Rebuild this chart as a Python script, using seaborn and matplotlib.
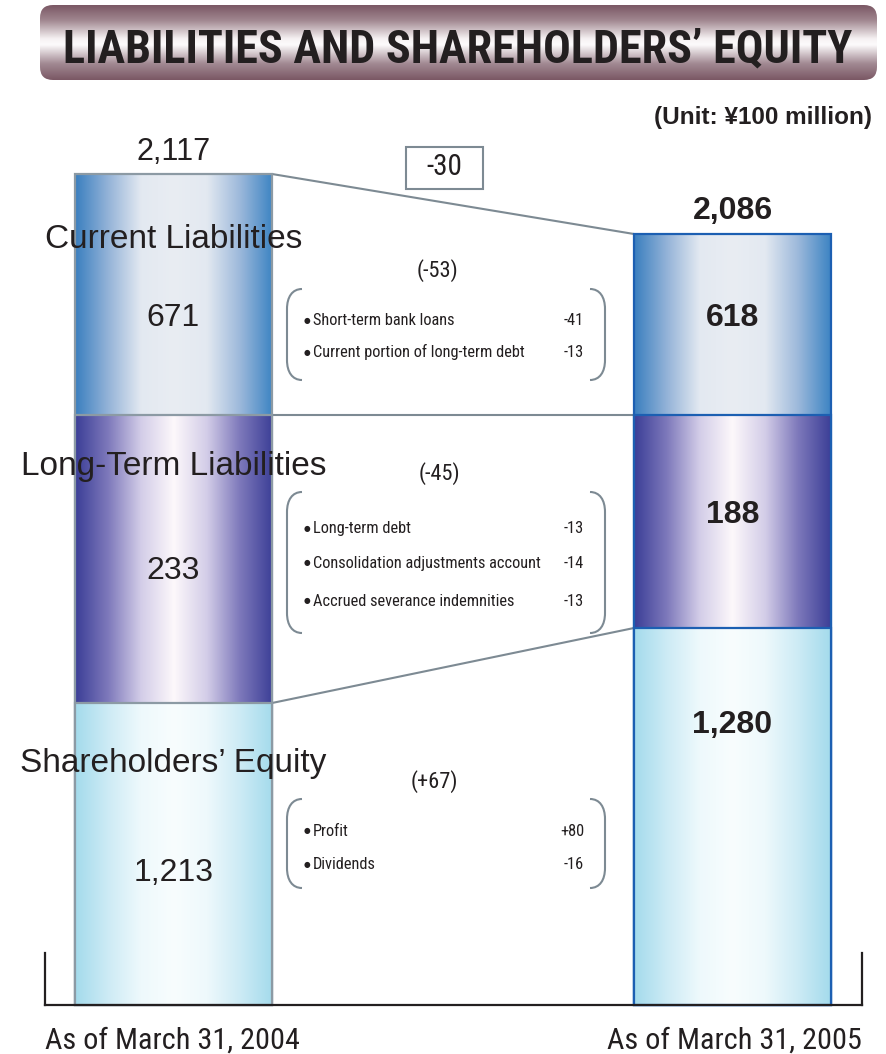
import numpy as np
import pandas as pd
import matplotlib
matplotlib.use("Agg")
import matplotlib.pyplot as plt
import seaborn as sns
from matplotlib.colors import LinearSegmentedColormap
from matplotlib.patches import FancyBboxPatch, PathPatch, Rectangle
from matplotlib.path import Path
from matplotlib import font_manager

# ---------------- data ----------------
dates = ["As of March 31, 2004", "As of March 31, 2005"]
segments = ["Shareholders’ Equity", "Long-Term Liabilities", "Current Liabilities"]  # bottom -> top
values_2004 = ["1,213", "233", "671"]
values_2005 = ["1,280", "188", "618"]
totals = ["2,117", "2,086"]
total_change = "-30"
# the original chart is schematic (not to scale): segment heights as drawn
drawn_2004 = [302, 288, 241]
drawn_2005 = [377, 213, 181]
change_headers = ["(+67)", "(-45)", "(-53)"]
eq_items = ["Profit", "Dividends"]
eq_item_values = ["+80", "-16"]
lt_items = ["Long-term debt", "Consolidation adjustments account", "Accrued severance indemnities"]
lt_item_values = ["-13", "-14", "-13"]
cl_items = ["Short-term bank loans", "Current portion of long-term debt"]
cl_item_values = ["-41", "-13"]
title = "LIABILITIES AND SHAREHOLDERS’ EQUITY"
unit = "(Unit: ¥100 million)"

# ---------------- style ----------------
sns.set_theme(style="white")
plt.rcParams["font.family"] = ["Liberation Sans", "DejaVu Sans"]


def find_condensed():
    entries = font_manager.fontManager.ttflist
    names = {f.name for f in entries}
    for pref in ["Liberation Sans Narrow", "Roboto Condensed", "Open Sans Condensed",
                 "Noto Sans Condensed", "DejaVu Sans Condensed"]:
        if pref in names:
            return pref, "normal"
    for f in entries:
        if "Narrow" in f.name or "Condensed" in f.name:
            return f.name, "normal"
    for f in entries:
        if str(f.stretch) in ("condensed", "semi-condensed", "extra-condensed"):
            return f.name, f.stretch
    return "Liberation Sans", "normal"


CFAM, CSTR = find_condensed()
COND = dict(family=[CFAM, "DejaVu Sans"], fontstretch=CSTR)

TXT = "#231f20"
GRAY = "#7d8a93"

W, H = 887, 1054
fig = plt.figure(figsize=(W / 100, H / 100), dpi=100)
ax = fig.add_axes([0, 0, 1, 1])
renderer = fig.canvas.get_renderer()


def fit(t, target_px):
    bb = t.get_window_extent(renderer)
    if bb.width > 0:
        t.set_fontsize(t.get_fontsize() * target_px / bb.width)
    return t.get_fontsize()


# pixel -> data helpers (layout only)
CX0, SP, BASE = 173.5, 559.0, 1005.0
def X(px):
    return (px - CX0) / SP
def Y(py):
    return BASE - py
bar_w = 197 / SP

cmaps = [
    LinearSegmentedColormap.from_list("eq", ["#a4dbec", "#cdebf5", "#eef9fc", "#f8fdfe", "#eef9fc", "#cdebf5", "#a4dbec"]),
    LinearSegmentedColormap.from_list("lt", ["#3b3e97", "#7e79bb", "#d3cde8", "#fdf8fb", "#d3cde8", "#7e79bb", "#3c3f97"]),
    LinearSegmentedColormap.from_list("cl", ["#3a7fbf", "#94b3d8", "#e3e9f1", "#e9edf3", "#e3e9f1", "#9db9db", "#3d84c3"]),
]
edge_colors = ["#8c9aa4", "#1c5fb2"]
grad = np.linspace(0, 1, 256)[None, :]

cum04 = np.cumsum(drawn_2004)
cum05 = np.cumsum(drawn_2005)

for k, i in enumerate([2, 1, 0]):
    df = pd.DataFrame({"date": dates, "top": [cum04[i], cum05[i]]})
    before = len(ax.patches)
    sns.barplot(data=df, x="date", y="top", order=dates, width=bar_w, color="white",
                errorbar=None, ax=ax)
    for j, p in enumerate(ax.patches[before:]):
        x0, w, h = p.get_x(), p.get_width(), p.get_height()
        im = ax.imshow(grad, cmap=cmaps[i], extent=(x0, x0 + w, 0, h), aspect="auto",
                       interpolation="bicubic", zorder=2 + 2 * k)
        im.set_clip_path(p)
        p.set_facecolor("none")
        p.set_edgecolor(edge_colors[j])
        p.set_linewidth(1.6)
        p.set_zorder(3 + 2 * k)

ax.set_xlim(X(0), X(W))
ax.set_ylim(Y(H), Y(0))
ax.set_xticks([])
ax.set_yticks([])
ax.set_xlabel("")
ax.set_ylabel("")

# spines as baseline with end ticks
ax.spines["top"].set_visible(False)
ax.spines["bottom"].set_position(("data", 0))
ax.spines["bottom"].set_bounds(X(45), X(862))
ax.spines["left"].set_position(("data", X(45)))
ax.spines["left"].set_bounds(0, Y(953))
ax.spines["right"].set_position(("data", X(862)))
ax.spines["right"].set_bounds(0, Y(953))
for s in ["bottom", "left", "right"]:
    ax.spines[s].set_color(TXT)
    ax.spines[s].set_linewidth(1.6)
    ax.spines[s].set_zorder(20)

# connectors
xr, xl = 0 + bar_w / 2, 1 - bar_w / 2
for i in [2, 1, 0]:
    ax.plot([xr, xl], [cum04[i], cum05[i]], color=GRAY, lw=1.5, zorder=1)

# totals
ax.text(0, Y(160), totals[0], ha="center", va="baseline", fontsize=22, color=TXT)
ax.text(1, Y(219), totals[1], ha="center", va="baseline", fontsize=23, fontweight="bold", color=TXT)

# change box
t = ax.text(X(444), Y(175), total_change, ha="center", va="baseline", fontsize=19,
            color=TXT, zorder=10, **COND)
fit(t, 36)
ax.add_patch(Rectangle((X(406), Y(189)), X(483) - X(406), Y(147) - Y(189), fill=False,
                       edgecolor=GRAY, lw=1.5, zorder=10))

# segment labels
seg_base = [772, 475, 248]
for lab, b in zip(segments, seg_base):
    ax.text(0, Y(b), lab, ha="center", va="baseline", fontsize=24, color=TXT, zorder=15)

left_val_base = [881, 579, 326]
right_val_base = [733, 523, 326]
for v, b in zip(values_2004, left_val_base):
    ax.text(0, Y(b), v, ha="center", va="baseline", fontsize=23, color=TXT, zorder=15)
for v, b in zip(values_2005, right_val_base):
    ax.text(1, Y(b), v, ha="center", va="baseline", fontsize=23, fontweight="bold", color=TXT, zorder=15)


# bracket boxes
def bracket(top, bot, xl_px=287, xr_px=605, stub=15, r=20):
    for side in (-1, 1):
        if side == -1:
            xe, xs = xl_px, xl_px + stub
        else:
            xe, xs = xr_px, xr_px - stub
        verts = [
            (X(xs), Y(top)), (X(xe + (xs - xe) * 0.35), Y(top)), (X(xe), Y(top + r * 0.4)), (X(xe), Y(top + r)),
            (X(xe), Y(bot - r)),
            (X(xe), Y(bot - r * 0.4)), (X(xe + (xs - xe) * 0.35), Y(bot)), (X(xs), Y(bot))]
        codes = [Path.MOVETO, Path.CURVE4, Path.CURVE4, Path.CURVE4, Path.LINETO,
                 Path.CURVE4, Path.CURVE4, Path.CURVE4]
        ax.add_patch(PathPatch(Path(verts, codes), fill=False, edgecolor=GRAY, lw=1.5, zorder=10))


# common item font size: fit the longest item to (a bit more than) its width in the reference
probe = ax.text(0, 0, lt_items[1], fontsize=12.5, **COND)
item_fs = fit(probe, 230)
probe.remove()
probe = ax.text(0, 0, change_headers[2], fontsize=15, **COND)
head_fs = fit(probe, 42)
probe.remove()

groups = [
    (change_headers[2], (437, 277), (289, 380), cl_items, cl_item_values, [325, 357]),
    (change_headers[1], (439, 480), (492, 633), lt_items, lt_item_values, [533, 568, 606]),
    (change_headers[0], (434, 788), (799, 888), eq_items, eq_item_values, [836, 869]),
]
for head, (hx, hy), (bt, bb), items, vals, ys in groups:
    ax.text(X(hx), Y(hy), head, ha="center", va="baseline", fontsize=head_fs,
            color=TXT, zorder=10, **COND)
    bracket(bt, bb)
    for it, v, yb in zip(items, vals, ys):
        ax.text(X(306.5), Y(yb - 5), "●", ha="center", va="center", fontsize=5.5,
                family="DejaVu Sans", color=TXT, zorder=10)
        ax.text(X(313), Y(yb), it, ha="left", va="baseline", fontsize=item_fs,
                color=TXT, zorder=10, **COND)
        ax.text(X(584), Y(yb), v, ha="right", va="baseline", fontsize=item_fs,
                color=TXT, zorder=10, **COND)

# date labels
t1 = ax.text(X(45), Y(1049), dates[0], ha="left", va="baseline", fontsize=24, color=TXT, **COND)
fs_d = fit(t1, 255)
ax.text(X(862), Y(1049), dates[1], ha="right", va="baseline", fontsize=fs_d, color=TXT, **COND)

# unit
ax.text(X(872), Y(124), unit, ha="right", va="baseline", fontsize=17.5, fontweight="bold", color=TXT)

# title banner
bx0, by0, bw, bh = 40, 5, 837, 75
bax = fig.add_axes([bx0 / W, 1 - (by0 + bh) / H, bw / W, bh / H])
bax.set_xlim(0, bw)
bax.set_ylim(0, bh)
bax.axis("off")
bcmap = LinearSegmentedColormap.from_list(
    "banner", [(0, "#7a5764"), (0.22, "#a28a93"), (0.47, "#fdfbfc"), (0.55, "#f6f2f3"),
               (0.8, "#a0868f"), (1, "#7a5764")])
vgrad = np.linspace(0, 1, 256)[:, None]
box = FancyBboxPatch((0, 0), bw, bh, boxstyle="round,pad=0,rounding_size=13",
                     facecolor="none", edgecolor="none")
bax.add_patch(box)
bim = bax.imshow(vgrad, cmap=bcmap, extent=(0, bw, 0, bh), origin="lower", aspect="auto",
                 interpolation="bicubic")
bim.set_clip_path(box)
bax.set_xlim(0, bw)
bax.set_ylim(0, bh)
tt = bax.text(bw / 2 - 1, bh - 57, title, ha="center", va="baseline", fontsize=33,
              fontweight="bold", color=TXT, **COND)
fit(tt, 791)

fig.savefig("out.png", dpi=100)
